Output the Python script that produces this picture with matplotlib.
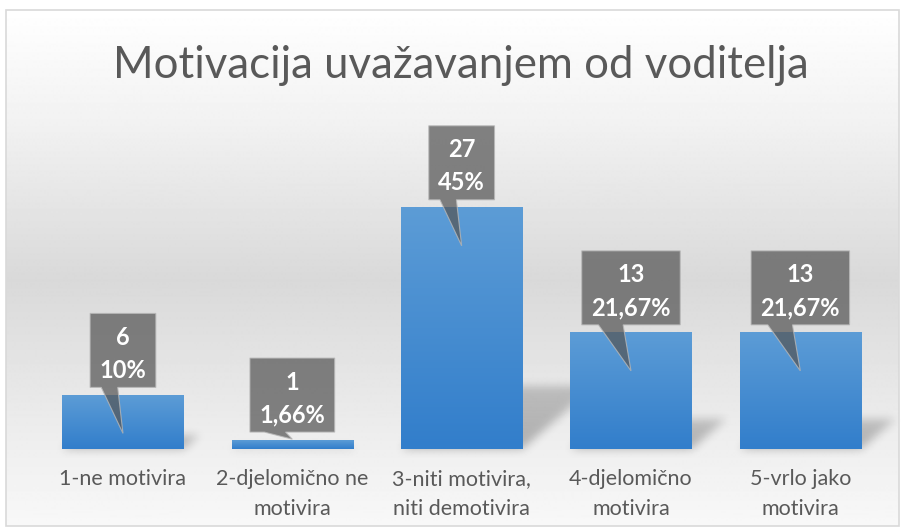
import numpy as np
import matplotlib.pyplot as plt
from matplotlib.patches import Rectangle, Polygon
from matplotlib.path import Path
from matplotlib.transforms import IdentityTransform

plt.rcParams['font.family'] = ['Lato', 'DejaVu Sans']

# survey answers
categories = ['1-ne motivira', '2-djelomično ne\nmotivira', '3-niti motivira,\nniti demotivira',
              '4-djelomično\nmotivira', '5-vrlo jako\nmotivira']
counts = [6, 1, 27, 13, 13]
percent_labels = ['10%', '1,66%', '45%', '21,67%', '21,67%']
title = 'Motivacija uvažavanjem od voditelja'

W, H = 901, 530
fig = plt.figure(figsize=(W / 100, H / 100), dpi=100)

# background axes in pixel units (row 0 at the top)
bg = fig.add_axes([0, 0, 1, 1])
bg.set_xlim(0, W)
bg.set_ylim(H, 0)
bg.axis('off')

# chart area fill: white on top, grey in the middle, lighter towards the bottom
rows = np.arange(10, 527)
shade = np.interp(rows, [10, 120, 280, 440, 526], [255, 242, 217, 238, 248]) / 255.0
grad = np.repeat(shade[:, None], 2, axis=1)
bg.imshow(grad, cmap='gray', vmin=0, vmax=1, extent=(6, 899, 526, 10), aspect='auto',
          interpolation='bilinear')

# main plot axes
ax = fig.add_axes([38.3 / W, (H - 449) / H, (885 - 38.3) / W, (449 - 181) / H])
ax.set_xlim(-0.5, 4.5)
ax.set_ylim(0, 30)
ax.patch.set_visible(False)
for s in ax.spines.values():
    s.set_visible(False)
ax.tick_params(left=False, bottom=False, labelleft=False)

x = np.arange(len(categories))
ax.set_xticks(x)
ax.set_xticklabels(categories, fontsize=15.5, color='#595959', linespacing=1.6)
ax.tick_params(axis='x', pad=11)

bars = ax.bar(x, counts, width=0.715, color='none', edgecolor='none')

# blue vertical gradient in each bar
top_c = np.array([92, 156, 214]) / 255.0
bot_c = np.array([50, 126, 203]) / 255.0
t = np.linspace(0, 1, 64)[:, None]
bar_grad = (top_c * (1 - t) + bot_c * t)[:, None, :]
for b in bars:
    ax.imshow(bar_grad, extent=(b.get_x(), b.get_x() + b.get_width(), 0, b.get_height()),
              aspect='auto', interpolation='bilinear', zorder=2)
ax.set_xlim(-0.5, 4.5)
ax.set_ylim(0, 30)

# soft perspective shadows behind the bars
cols_g, rows_g = np.meshgrid(np.arange(W) + 0.5, np.arange(H) + 0.5)
pts = np.column_stack([cols_g.ravel(), rows_g.ravel()])
mask = np.zeros(H * W)
for b in bars:
    (x0, yb), (x1, yt) = ax.transData.transform([(b.get_x(), 0),
                                                 (b.get_x() + b.get_width(), b.get_height())])
    rb, rt = H - yb, H - yt
    h = rb - rt
    poly = Path([(x0, rb), (x1, rb), (x1 + 0.3 * h, rb - 0.26 * h), (x0 + 0.3 * h, rb - 0.26 * h)])
    inside = poly.contains_points(pts)
    fade = np.clip(1 - (rb - pts[:, 1]) / max(0.26 * h, 1) * 0.3, 0, 1)
    mask = np.maximum(mask, inside * fade)
mask = mask.reshape(H, W)
k = np.arange(-12, 13)
kern = np.exp(-k ** 2 / (2 * 4.5 ** 2))
kern /= kern.sum()
mask = np.apply_along_axis(lambda r: np.convolve(r, kern, mode='same'), 1, mask)
mask = np.apply_along_axis(lambda c: np.convolve(c, kern, mode='same'), 0, mask)
shadow = np.zeros((H, W, 4))
shadow[..., 3] = 0.27 * mask
bg.imshow(shadow, extent=(0, W, H, 0), aspect='auto', interpolation='bilinear')
bg.set_xlim(0, W)
bg.set_ylim(H, 0)

# chart border
bg.add_patch(Rectangle((6, 10), 893, 516, fill=False, edgecolor='#d9d9d9', linewidth=1.2))

# title
fig.text(461 / W, 1 - 78 / H, title, ha='center', va='baseline', fontsize=31.5, color='#595959')

# callout labels
fig.canvas.draw()
renderer = fig.canvas.get_renderer()
for b, n, pct in zip(bars, counts, percent_labels):
    cx = b.get_x() + b.get_width() / 2
    v = b.get_height()
    px, top_y = ax.transData.transform((cx, v))
    tip_v = v - 4.25 if v > 4.25 else v + 0.1
    tip_y = ax.transData.transform((cx, tip_v))[1]
    box_b = top_y + 8
    box_t = box_b + 74
    t1 = fig.text(px / W, (box_b + 42.5) / H, str(n), ha='center', va='baseline',
                  fontsize=17, fontweight='bold', color='white', zorder=5)
    t2 = fig.text(px / W, (box_b + 9.5) / H, pct, ha='center', va='baseline',
                  fontsize=17, fontweight='bold', color='white', zorder=5)
    tw = max(t1.get_window_extent(renderer).width, t2.get_window_extent(renderer).width)
    bw = tw + 19
    left = px - bw / 2
    right = px + bw / 2
    outline = [(left, box_t), (right, box_t), (right, box_b),
               (left + 0.42 * bw, box_b), (px, tip_y), (left + 0.17 * bw, box_b),
               (left, box_b)]
    fig.add_artist(Polygon(outline, closed=True, transform=IdentityTransform(),
                           facecolor=(85 / 255, 85 / 255, 85 / 255, 0.72),
                           edgecolor=(0.72, 0.72, 0.72, 0.8), linewidth=0.8, zorder=4))

fig.savefig('out.png', dpi=100)
